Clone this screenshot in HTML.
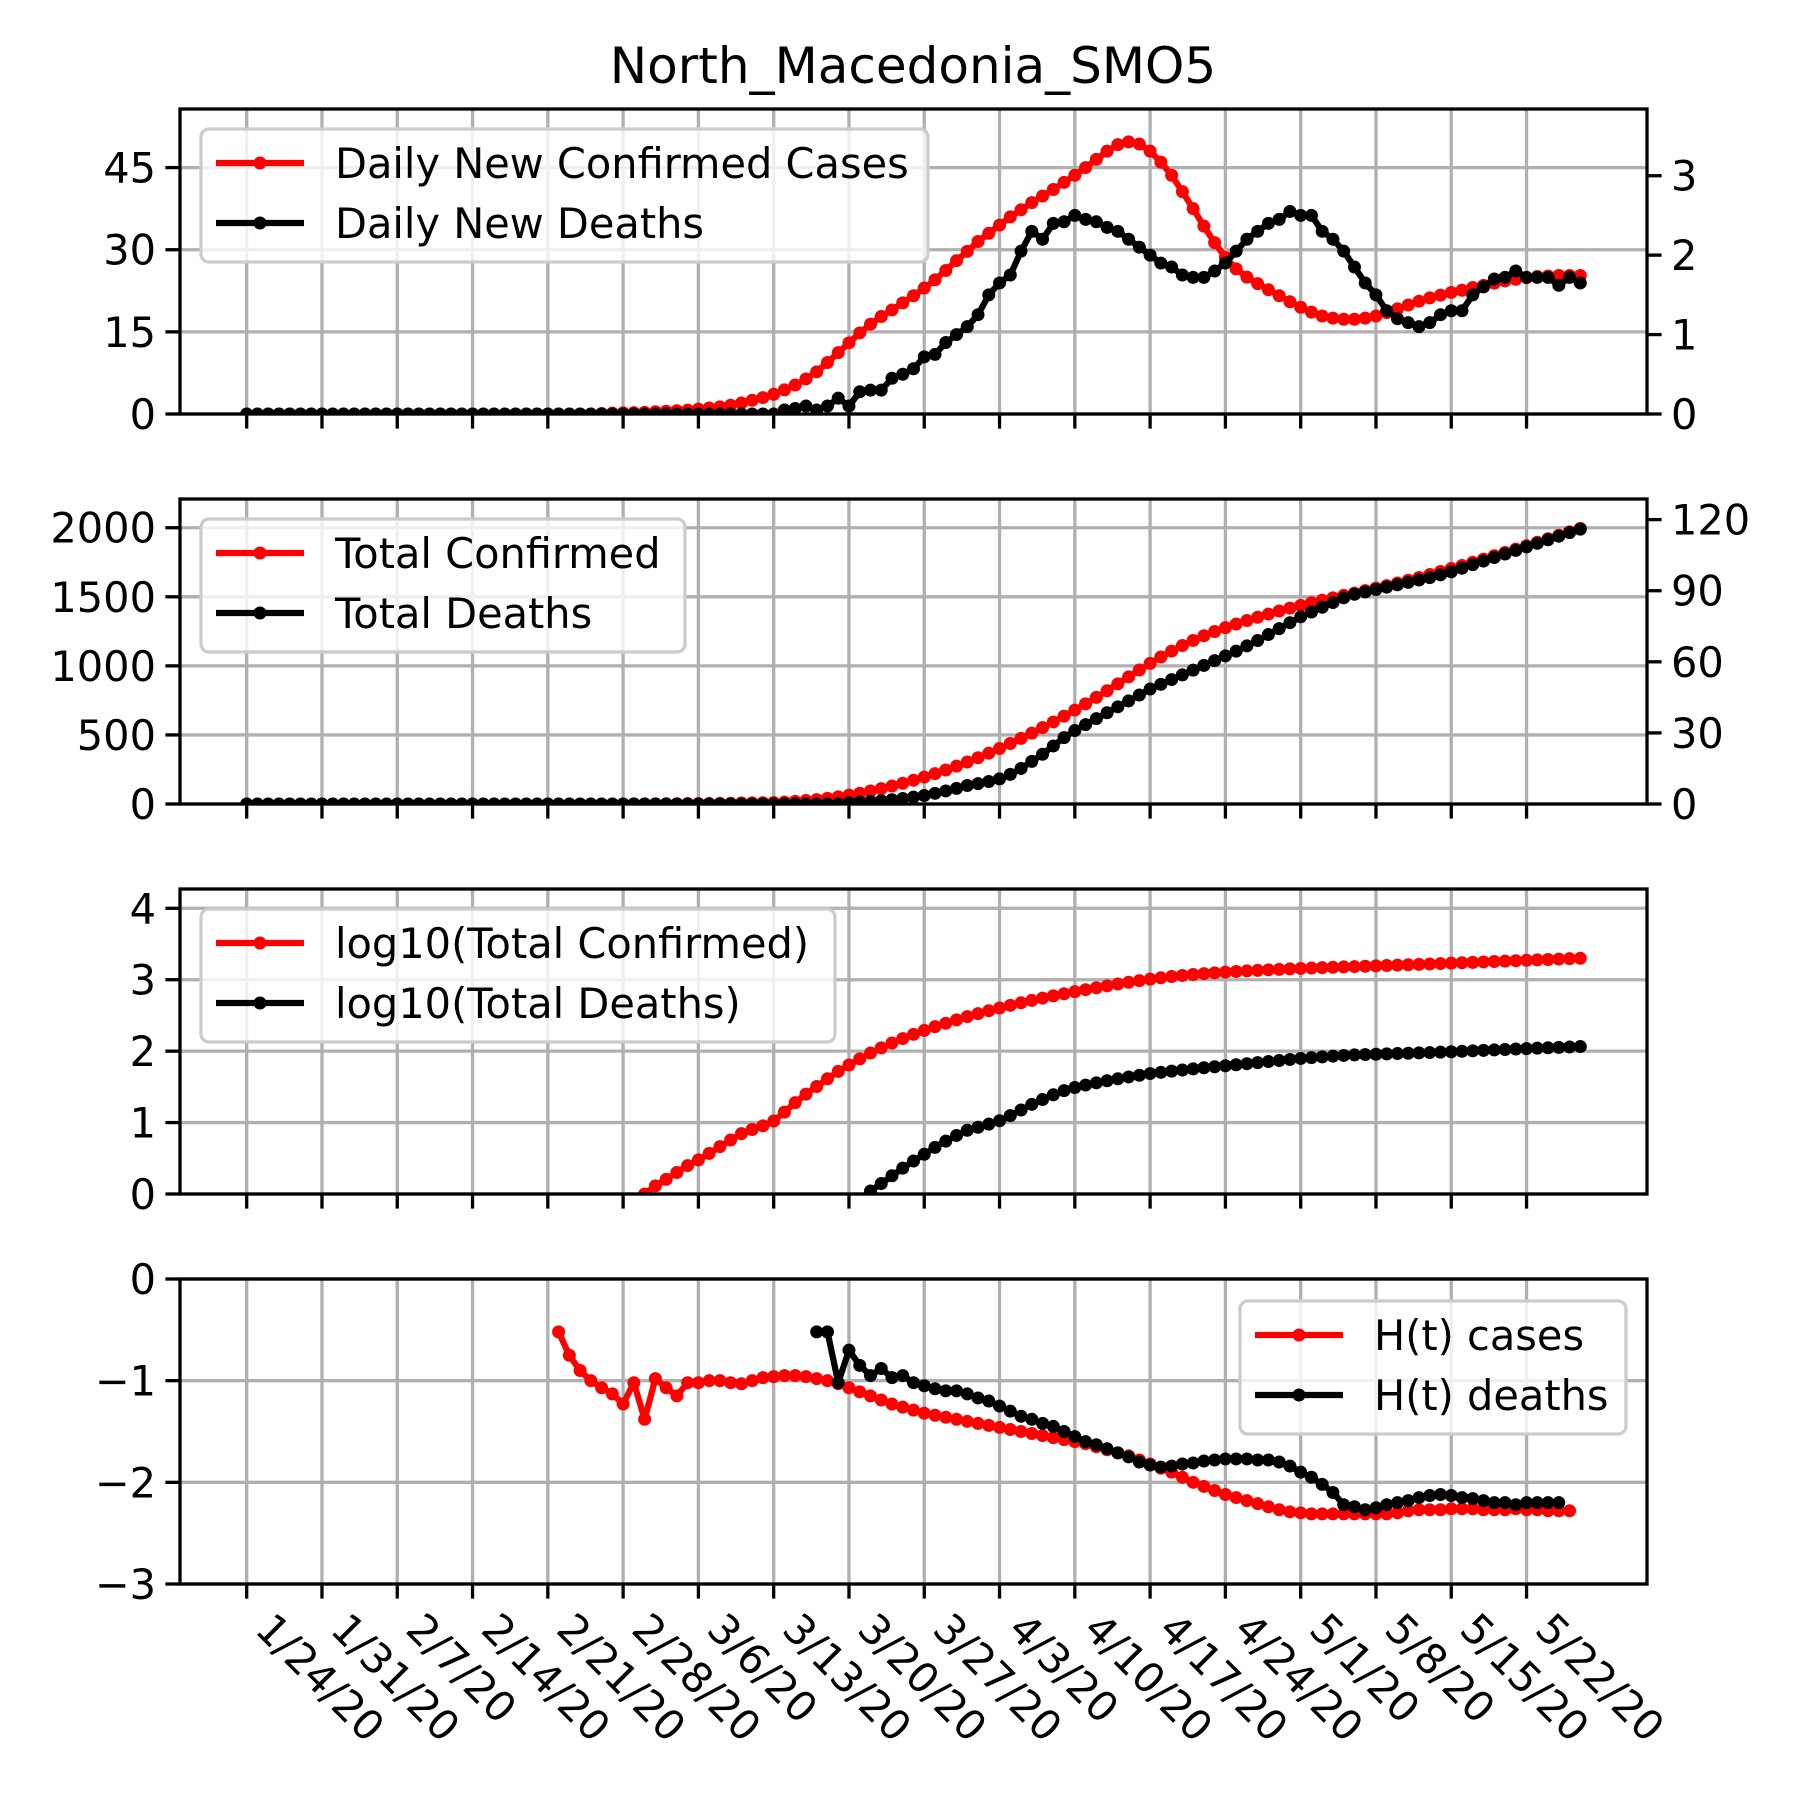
<!DOCTYPE html>
<html><head><meta charset="utf-8">
<style>
html,body{margin:0;padding:0;background:#fff;}
svg{display:block;font-family:"DejaVu Sans","Liberation Sans",sans-serif;}
</style></head>
<body>
<svg id="fig" xmlns="http://www.w3.org/2000/svg" width="1800" height="1800" viewBox="0 0 1800 1800">
<rect x="0" y="0" width="1800" height="1800" fill="#fff"/>
<text x="913" y="83" font-size="50" text-anchor="middle">North_Macedonia_SMO5</text>
</svg>
<script>
const tickLabels = ["1/24/20","1/31/20","2/7/20","2/14/20","2/21/20","2/28/20","3/6/20","3/13/20","3/20/20","3/27/20","4/3/20","4/10/20","4/17/20","4/24/20","5/1/20","5/8/20","5/15/20","5/22/20"];
const casesDaily = Array(33).fill(0).concat([0.1,0.15,0.2,0.25,0.3,0.4,0.5,0.6,0.7,0.9,1.1,1.3,1.6,2.0,2.5,3.0,
3.6,4.4,5.3,6.4,7.7,9.4,11.2,
13,14.8,16.4,17.8,19,20.3,21.6,23,24.5,26.2,28,29.7,31.5,33,34.5,36,37.3,38.6,39.8,41,42.3,43.6,45,46.5,48,49.2,49.7,49.3,48,46,43.6,40.6,37.5,34.3,31.3,28.6,26.5,25,23.8,22.7,21.6,20.5,19.5,18.6,17.9,17.5,17.3,17.3,17.5,17.9,18.5,19.2,19.9,20.6,21.2,21.7,22.2,22.6,23.1,23.5,23.9,24.3,24.6,24.9,25.1,25.2,25.3,25.3,25.3]);
const deathsDaily = Array(50).fill(0).concat([0.05,0.07,0.1,0.05,0.1,0.2,0.1,0.28,0.3,0.3,0.45,0.5,0.57,0.72,0.75,0.9,1.0,1.1,1.25,1.5,1.65,1.75,2.05,2.3,2.2,2.4,2.42,2.5,2.45,2.42,2.35,2.3,2.2,2.1,2.0,1.9,1.85,1.75,1.72,1.72,1.8,1.9,2.05,2.2,2.3,2.4,2.45,2.55,2.5,2.5,2.3,2.2,2.05,1.85,1.65,1.5,1.3,1.2,1.15,1.1,1.15,1.25,1.3,1.3,1.5,1.6,1.7,1.72,1.8,1.72,1.72,1.72,1.62,1.72,1.65]);
const totalCases = Array(33).fill(0).concat([0.1,0.25,0.45,0.7,1,1.3,1.6,2,2.5,3,3.7,4.6,5.7,7,8,9,10.5,14,19,25,32,41,52,64,78,94,111,130,150,172,195,220,246,274,304,335,368,402,438,475,513,553,594,636,680,725,772,820,870,920,970,1018,1064,1107,1147,1184,1218,1249,1277,1303,1328,1352,1375,1397,1418,1438,1457,1475,1492,1510,1527,1545,1563,1581,1600,1620,1640,1661,1683,1705,1727,1750,1773,1797,1821,1845,1870,1895,1920,1945,1970,1995]);
const totalDeaths = Array(56).fill(0).concat([0.6,0.85,1.1,1.4,1.8,2.3,2.9,3.6,4.5,5.5,6.6,7.8,8.6,9.5,10.6,12.5,15,18,21,24.5,28,31,33.5,36,38.5,41,43.5,46,48.5,50.5,52.5,54.5,56.5,58.5,60.5,62.5,64.5,66.7,69,71.5,74,76.5,79,81,83,85,87,88.5,89.5,90.5,91.5,92.5,93.5,94.5,95.5,96.7,98,99.5,101,102.5,104,105.5,107,108.5,110,111.5,113,114.5,116]);
const hCases = Array(29).fill(null).concat([-0.52,-0.75,-0.9,-1.0,-1.07,-1.13,-1.23,-1.02,-1.38,-0.98,-1.07,-1.15,-1.02,-1.02,-1.0,-1.0,-1.02,-1.03,-1.0,-0.97,-0.96,-0.95,-0.95,-0.96,-0.98,-1.0,-1.03,-1.07,-1.11,-1.15,-1.19,-1.23,-1.26,-1.29,-1.32,-1.34,-1.36,-1.38,-1.4,-1.42,-1.44,-1.46,-1.48,-1.5,-1.52,-1.54,-1.56,-1.58,-1.6,-1.62,-1.65,-1.68,-1.71,-1.74,-1.78,-1.82,-1.86,-1.9,-1.95,-2.0,-2.04,-2.08,-2.12,-2.15,-2.18,-2.21,-2.24,-2.27,-2.29,-2.3,-2.31,-2.31,-2.31,-2.31,-2.31,-2.31,-2.31,-2.31,-2.3,-2.28,-2.27,-2.27,-2.27,-2.26,-2.26,-2.26,-2.27,-2.27,-2.27,-2.26,-2.27,-2.27,-2.28,-2.28,-2.28,null]);
const hDeaths = Array(53).fill(null).concat([-0.52,-0.52,-1.02,-0.7,-0.85,-0.95,-0.88,-0.97,-0.95,-1.02,-1.05,-1.08,-1.1,-1.1,-1.13,-1.17,-1.2,-1.25,-1.3,-1.35,-1.38,-1.42,-1.45,-1.5,-1.55,-1.6,-1.63,-1.67,-1.71,-1.75,-1.8,-1.83,-1.85,-1.84,-1.82,-1.81,-1.79,-1.78,-1.77,-1.77,-1.77,-1.78,-1.78,-1.8,-1.84,-1.9,-1.95,-2.02,-2.1,-2.22,-2.24,-2.27,-2.25,-2.22,-2.2,-2.18,-2.15,-2.13,-2.12,-2.13,-2.15,-2.16,-2.18,-2.2,-2.2,-2.22,-2.2,-2.2,-2.2,-2.2,null]);

const NS = "http://www.w3.org/2000/svg";
const svg = document.getElementById('fig');
const AX_L = 180, AX_R = 1647, XMIN = -6.2, XMAX = 130.2;
function xs(i){ return AX_L + (i - XMIN) / (XMAX - XMIN) * (AX_R - AX_L); }
function mk(tag, attrs, parent){ const e = document.createElementNS(NS, tag); for (const k in attrs) e.setAttribute(k, attrs[k]); (parent||svg).appendChild(e); return e; }

const panels = [
 {name:'daily', top:109, bot:414, ylim:[0,55.7], yticks:[0,15,30,45], rlim:[0,3.84], rticks:[0,1,2,3],
  series:[{d:casesDaily,c:'#ff0000',ax:'l',n:'daily-cases-line'},{d:deathsDaily,c:'#000',ax:'r',n:'daily-deaths-line'}],
  legend:{x:201,y:129,w:727,labels:['Daily New Confirmed Cases','Daily New Deaths']}},
 {name:'total', top:499, bot:804, ylim:[0,2208], yticks:[0,500,1000,1500,2000], rlim:[0,128.7], rticks:[0,30,60,90,120],
  series:[{d:totalCases,c:'#ff0000',ax:'l',n:'total-cases-line'},{d:totalDeaths,c:'#000',ax:'r',n:'total-deaths-line'}],
  legend:{x:201,y:519,w:484,labels:['Total Confirmed','Total Deaths']}},
 {name:'log', top:889, bot:1194, ylim:[0,4.27], yticks:[0,1,2,3,4],
  series:[{d:totalCases.map(v=>v>0?Math.log10(v):null),c:'#ff0000',ax:'l',n:'log-cases-line'},{d:totalDeaths.map(v=>v>0?Math.log10(v):null),c:'#000',ax:'l',n:'log-deaths-line'}],
  legend:{x:201,y:909,w:634,labels:['log10(Total Confirmed)','log10(Total Deaths)']}},
 {name:'hurst', top:1279, bot:1584, ylim:[-3,0], yticks:[-3,-2,-1,0], ylabels:['\u22123','\u22122','\u22121','0'],
  series:[{d:hCases,c:'#ff0000',ax:'l',n:'h-cases-line'},{d:hDeaths,c:'#000',ax:'l',n:'h-deaths-line'}],
  legend:{x:1240,y:1301,w:386,labels:['H(t) cases','H(t) deaths']}}
];

panels.forEach((p, pi) => {
  const g = mk('g', {});
  
  
  const ys = v => p.bot - (v - p.ylim[0]) / (p.ylim[1] - p.ylim[0]) * (p.bot - p.top);
  const yr = p.rlim ? (v => p.bot - (v - p.rlim[0]) / (p.rlim[1] - p.rlim[0]) * (p.bot - p.top)) : null;
  const clipId = 'clip' + pi;
  const cp = mk('clipPath', {id: clipId}, g);
  mk('rect', {x: AX_L, y: p.top, width: AX_R - AX_L, height: p.bot - p.top}, cp);
  for (let k = 0; k < tickLabels.length; k++) {
    const x = xs(k * 7);
    const gl = mk('line', {x1:x, x2:x, y1:p.top, y2:p.bot, stroke:'#b0b0b0', 'stroke-width':3.3}, g);
    
    
    const tk = mk('line', {x1:x, x2:x, y1:p.bot, y2:p.bot + 14.6, stroke:'#000', 'stroke-width':3.3}, g);
    
    
  }
  p.yticks.forEach((v, k) => {
    const y = ys(v);
    const gl = mk('line', {x1:AX_L, x2:AX_R, y1:y, y2:y, stroke:'#b0b0b0', 'stroke-width':3.3}, g);
    
    
    const tk = mk('line', {x1:AX_L - 14.6, x2:AX_L, y1:y, y2:y, stroke:'#000', 'stroke-width':3.3}, g);
    
    
    const t = mk('text', {x:AX_L - 24, y:y + 15, 'font-size':41.5, 'text-anchor':'end'}, g);
    
    
    t.textContent = p.ylabels ? p.ylabels[k] : String(v);
  });
  if (p.rticks) p.rticks.forEach(v => {
    const y = yr(v);
    const tk = mk('line', {x1:AX_R, x2:AX_R + 14.6, y1:y, y2:y, stroke:'#000', 'stroke-width':3.3}, g);
    
    
    const t = mk('text', {x:AX_R + 24, y:y + 15, 'font-size':41.5, 'text-anchor':'start'}, g);
    
    
    t.textContent = String(v);
  });
  p.series.forEach(s => {
    const yf = s.ax === 'r' ? yr : ys;
    const sg = mk('g', {'clip-path': 'url(#' + clipId + ')'}, g);
    
    
    let d = '', pen = false;
    s.d.forEach((v, i) => {
      if (v === null || v === undefined) { pen = false; return; }
      d += (pen ? 'L' : 'M') + xs(i).toFixed(1) + ' ' + yf(v).toFixed(1);
      pen = true;
    });
    mk('path', {d:d, fill:'none', stroke:s.c, 'stroke-width':6.25, 'stroke-linejoin':'round'}, sg);
    s.d.forEach((v, i) => {
      if (v === null || v === undefined) return;
      const c = mk('circle', {cx:xs(i), cy:yf(v), r:6.5, fill:s.c}, sg);
      
      
    });
  });
  const fr = mk('rect', {x:AX_L, y:p.top, width:AX_R - AX_L, height:p.bot - p.top, fill:'none', stroke:'#000', 'stroke-width':3.3}, g);
  
  
  const L = p.legend;
  const lg = mk('g', {}, g);
  
  
  mk('rect', {x:L.x, y:L.y, width:L.w, height:133, rx:8, fill:'#fff', 'fill-opacity':0.8, stroke:'#cccccc', 'stroke-width':3.3}, lg);
  L.labels.forEach((lab, k) => {
    const y = L.y + 34 + k * 60;
    const col = k === 0 ? '#ff0000' : '#000';
    const e = mk('g', {}, lg);
    
    
    mk('line', {x1:L.x + 15, x2:L.x + 103, y1:y, y2:y, stroke:col, 'stroke-width':6.25}, e);
    mk('circle', {cx:L.x + 59, cy:y, r:6.5, fill:col}, e);
    const t = mk('text', {x:L.x + 134, y:y + 15, 'font-size':41.5}, e);
    t.textContent = lab;
  });
});
tickLabels.forEach((lab, k) => {
  const x = xs(k * 7) + 28, y = 1610;
  const t = mk('text', {x:0, y:0, 'font-size':41.5, transform:'translate(' + x + ' ' + y + ') rotate(45) translate(0 30)'});
  
  
  t.textContent = lab;
});
</script>
</body></html>
